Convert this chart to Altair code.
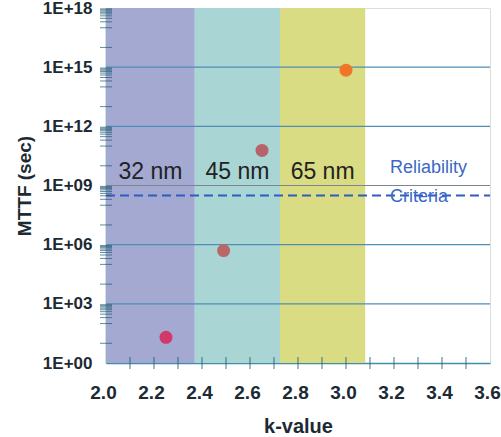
import altair as alt
import pandas as pd

# ---- data ----
band_start = [2.0, 2.37, 2.725]
band_end = [2.37, 2.725, 3.08]
band_names = ["32 nm", "45 nm", "65 nm"]

pt_k = [2.25, 2.49, 2.65, 3.0]
pt_mttf = [20, 5e5, 6e10, 7e14]
pt_id = ["p1", "p2", "p3", "p4"]

criteria_mttf = 3.15e8
grid_mttf = [1e3, 1e6, 1e9, 1e12, 1e15]
x_labels = [2.0, 2.2, 2.4, 2.6, 2.8, 3.0, 3.2, 3.4, 3.6]
y_labels = [1e0, 1e3, 1e6, 1e9, 1e12, 1e15, 1e18]
x_minor = [2.1, 2.2, 2.3, 2.4, 2.5, 2.6, 2.7, 2.8, 2.9, 3.0, 3.1, 3.2, 3.3, 3.4, 3.5]
y_minor_exp = [2, 5, 8, 11, 14, 17]
y_minor_mult = [1, 2, 3, 4, 5, 6, 7, 8, 9]
y_minor_extra_exp = [1, 4, 7, 10, 13, 16]

W, H = 384, 355
FONT = "Liberation Sans"

bands = pd.DataFrame({"k0": band_start, "k1": band_end, "node": band_names})
bands["mid"] = (bands["k0"] + bands["k1"]) / 2
bands["ypos"] = 2.1e9
pts = pd.DataFrame({"k": pt_k, "mttf": pt_mttf, "id": pt_id})
grid = pd.DataFrame({"v": grid_mttf})
crit = pd.DataFrame({"v": [criteria_mttf]})
xm = pd.DataFrame({"km": [float(v) for v in x_minor]})
ym_vals = [float(m * 10 ** e) for e in y_minor_exp for m in y_minor_mult] + [float(10 ** e) for e in y_minor_extra_exp]
ym = pd.DataFrame({"vm": ym_vals})

xs = alt.Scale(domain=[2.0, 3.6], nice=False, zero=False)
ys = alt.Scale(type="log", domain=[1, 1e18], nice=False)

xaxis = alt.Axis(
    values=x_labels, format=".1f", ticks=False, tickSize=0, grid=False,
    labelFlush=False, labelOverlap=False, labelOffset=-3,
    labelFont=FONT, labelFontSize=19, labelFontWeight="bold", labelColor="#1c2a33",
    labelPadding=20, domainColor="#3f8fa8", domainWidth=1.5,
    title="k-value", titleFont=FONT, titleFontSize=20, titleFontWeight="bold",
    titleColor="#1c2a33", titlePadding=14,
)
yaxis = alt.Axis(
    values=y_labels, ticks=False, tickSize=0, grid=False,
    labelFlush=False, labelOverlap=False,
    labelExpr="'1E+' + (round(log(datum.value)/LN10) < 10 ? '0' : '') + round(log(datum.value)/LN10)",
    labelFont=FONT, labelFontSize=17, labelFontWeight="bold", labelColor="#1c2a33",
    labelPadding=14, domainColor="#3f8fa8", domainWidth=1.5,
    title="MTTF (sec)", titleFont=FONT, titleFontSize=19, titleFontWeight="bold",
    titleColor="#1c2a33", titlePadding=8,
)

band_layer = alt.Chart(bands).mark_rect(opacity=1).encode(
    x=alt.X("k0:Q", scale=xs, axis=xaxis),
    x2="k1:Q",
    y=alt.value(0),
    y2=alt.value(H),
    fill=alt.Fill("node:N", scale=alt.Scale(domain=band_names,
                  range=["#a3a9d1", "#a9d5d5", "#d9dc83"]), legend=None),
)

grid_layer = alt.Chart(grid).mark_rule(strokeWidth=1.2).encode(
    y=alt.Y("v:Q", scale=ys, axis=yaxis),
    x=alt.value(0), x2=alt.value(W),
    stroke=alt.condition(alt.datum.v == 1e9, alt.value("#7d8590"), alt.value("#4f8db5")),
)

crit_layer = alt.Chart(crit).mark_rule(strokeWidth=2, strokeDash=[9, 5], stroke="#2f5cc0").encode(
    y=alt.Y("v:Q", scale=ys), x=alt.value(0), x2=alt.value(W),
)

xminor_layer = alt.Chart(xm).mark_tick(orient="vertical", size=12, thickness=1.2, color="#1f5a70").encode(
    x=alt.X("km:Q", scale=xs), y=alt.value(H),
)
yminor_layer = alt.Chart(ym).mark_tick(orient="horizontal", size=12, thickness=1, color="#1f5a70").encode(
    y=alt.Y("vm:Q", scale=ys), x=alt.value(0),
)

pt_layer = alt.Chart(pts).mark_circle(size=170, opacity=1).encode(
    x=alt.X("k:Q", scale=xs),
    y=alt.Y("mttf:Q", scale=ys),
    color=alt.Color("id:N", scale=alt.Scale(domain=pt_id,
                    range=["#d2386a", "#b86866", "#b8626c", "#ef7628"]), legend=None),
)

band_text = alt.Chart(bands).mark_text(font=FONT, fontSize=23, fill="#222222",
                                       baseline="alphabetic", align="center").encode(
    x=alt.X("mid:Q", scale=xs), y=alt.Y("ypos:Q", scale=ys), text="node:N",
)

rel_df = pd.DataFrame({"k": [3.183, 3.183], "v": [4.3e9, 1.5e8], "t": ["Reliability", "Criteria"]})
rel_text = alt.Chart(rel_df).mark_text(font=FONT, fontSize=18, fill="#3a68c6",
                                       baseline="alphabetic", align="left").encode(
    x=alt.X("k:Q", scale=xs), y=alt.Y("v:Q", scale=ys), text="t:N",
)

chart = alt.layer(
    band_layer, grid_layer, crit_layer, pt_layer, band_text, rel_text,
    xminor_layer, yminor_layer,
).resolve_scale(color="independent", fill="independent").properties(
    width=W, height=H,
    autosize=alt.AutoSizeParams(type="none"),
    padding={"left": 106, "top": 8, "right": 11, "bottom": 74},
).configure_view(stroke="#b9c2cc", strokeWidth=1.5, clip=True).configure(background="white")

chart.save("out.html", embed_options={"renderer": "svg", "actions": False})
